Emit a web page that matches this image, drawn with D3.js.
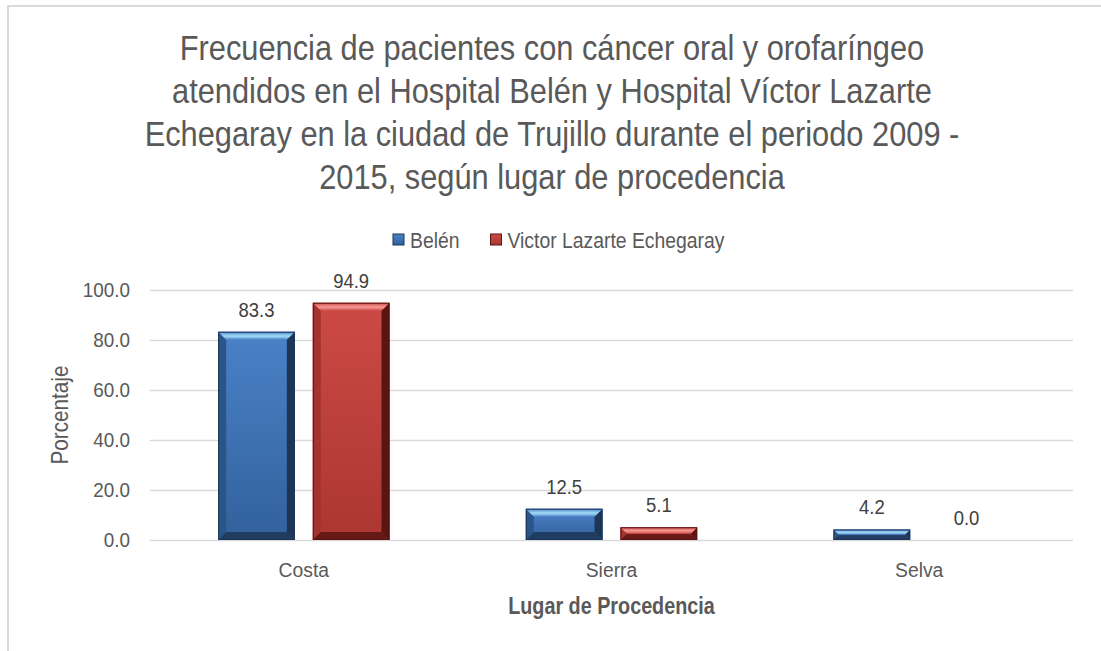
<!DOCTYPE html>
<html>
<head>
<meta charset="utf-8">
<script src="https://cdn.jsdelivr.net/npm/d3@7"></script>
<style>
  body { margin: 0; background: #fff; }
  svg { display: block; font-family: "Liberation Sans Narrow", "Arial Narrow", "Liberation Sans", sans-serif; }
  .grid line { stroke: #d9d9d9; stroke-width: 1.5; }
</style>
</head>
<body>
<div id="chart"></div>
<script>
// data
const categories = ["Costa", "Sierra", "Selva"];
const seriesNames = ["Belén", "Victor Lazarte Echegaray"];
const belenValues = [83.3, 12.5, 4.2];
const victorValues = [94.9, 5.1, 0.0];
const yTicks = [0, 20, 40, 60, 80, 100];
const titleLines = [
    "Frecuencia de pacientes con cáncer oral y orofaríngeo",
    "atendidos en el Hospital Belén y Hospital Víctor Lazarte",
    "Echegaray en la ciudad de Trujillo durante el periodo 2009 -",
    "2015, según lugar de procedencia"
];

const data = categories.map((c, i) => ({
    cat: c,
    values: [
        { key: seriesNames[0], value: belenValues[i] },
        { key: seriesNames[1], value: victorValues[i] }
    ]
}));

const W = 1101, H = 651;
const margin = { top: 290, left: 150, right: 28, bottom: 111 };
const width = W - margin.left - margin.right,
      height = H - margin.top - margin.bottom;

const textColor = "#595959";

// no narrow font installed, so squeeze text horizontally around its anchor
function squeeze(sel, sx) {
    sel.each(function() {
        const t = d3.select(this);
        const x = +t.attr("x") || 0, y = +t.attr("y") || 0;
        const prev = t.attr("transform") || "";
        t.attr("transform", `${prev} translate(${x},${y}) scale(${sx},1) translate(${-x},${-y})`);
    });
}

const svg = d3.select("#chart").append("svg")
    .attr("width", W)
    .attr("height", H);

// outer frame (runs off the right and bottom)
svg.append("rect")
    .attr("x", 8).attr("y", 6)
    .attr("width", W + 10).attr("height", H + 10)
    .attr("fill", "none")
    .attr("stroke", "#d9d9d9")
    .attr("stroke-width", 2);

// gradients for the bevel look
const defs = svg.append("defs");
const palette = {
    "Belén": { light: "#a4dcf8", top: "#4a82c8", mid: "#32619c", dark: "#1d3657", side: "#2b5589" },
    "Victor Lazarte Echegaray": { light: "#f59a95", top: "#cc4a45", mid: "#ac3632", dark: "#5a1412", side: "#a3332f" }
};
seriesNames.forEach((s, i) => {
    const p = palette[s];
    const body = defs.append("linearGradient").attr("id", "body" + i)
        .attr("x1", 0).attr("y1", 0).attr("x2", 0).attr("y2", 1);
    body.append("stop").attr("offset", "0%").attr("stop-color", p.top);
    body.append("stop").attr("offset", "100%").attr("stop-color", p.mid);
    const topG = defs.append("linearGradient").attr("id", "top" + i)
        .attr("x1", 0).attr("y1", 0).attr("x2", 0).attr("y2", 1);
    topG.append("stop").attr("offset", "0%").attr("stop-color", p.top);
    topG.append("stop").attr("offset", "55%").attr("stop-color", p.light);
    topG.append("stop").attr("offset", "100%").attr("stop-color", p.top);
});

const g = svg.append("g")
    .attr("transform", `translate(${margin.left},${margin.top})`);

// scales
const x0 = d3.scaleBand()
    .domain(categories)
    .range([0, width])
    .padding(0);

const x1 = d3.scaleBand()
    .domain(seriesNames)
    .range([0, x0.bandwidth()])
    .paddingInner(0.19)
    .paddingOuter(0.72);

const y = d3.scaleLinear()
    .domain([0, 100])
    .range([height, 0]);

// y axis + gridlines
const yAxis = g.append("g")
    .attr("class", "grid")
    .call(d3.axisLeft(y).tickValues(yTicks).tickFormat(d3.format(".1f"))
        .tickSize(-width).tickPadding(20));
yAxis.select(".domain").remove();
yAxis.selectAll("text")
    .attr("fill", textColor)
    .style("font-size", "21px")
    .style("font-family", "inherit")
    .call(squeeze, 0.9);

// x axis
const xAxis = g.append("g")
    .attr("transform", `translate(0,${height})`)
    .call(d3.axisBottom(x0).tickSize(0).tickPadding(22));
xAxis.select(".domain").remove();
xAxis.selectAll("text")
    .attr("fill", textColor)
    .style("font-size", "21px")
    .style("font-family", "inherit")
    .call(squeeze, 0.92);

// bars with bevel
const groups = g.selectAll(".cat")
    .data(data)
    .enter().append("g")
    .attr("class", "cat")
    .attr("transform", d => `translate(${x0(d.cat)},0)`);

groups.selectAll(".bar")
    .data(d => d.values)
    .enter().append("g")
    .attr("class", "bar")
    .each(function(d) {
        const i = seriesNames.indexOf(d.key);
        const p = palette[d.key];
        const bx = x1(d.key), bw = x1.bandwidth();
        const by = y(d.value), bh = height - y(d.value);
        if (bh <= 0) return;
        const b = Math.min(8, bh / 2);
        const el = d3.select(this);
        el.append("rect")
            .attr("x", bx).attr("y", by)
            .attr("width", bw).attr("height", bh)
            .attr("fill", `url(#body${i})`);
        // left side
        el.append("polygon")
            .attr("points", [[bx, by], [bx + b, by + b], [bx + b, by + bh - b], [bx, by + bh]].join(" "))
            .attr("fill", p.side);
        // right side
        el.append("polygon")
            .attr("points", [[bx + bw, by], [bx + bw - b, by + b], [bx + bw - b, by + bh - b], [bx + bw, by + bh]].join(" "))
            .attr("fill", p.dark);
        // bottom
        el.append("polygon")
            .attr("points", [[bx, by + bh], [bx + b, by + bh - b], [bx + bw - b, by + bh - b], [bx + bw, by + bh]].join(" "))
            .attr("fill", p.dark).attr("opacity", 0.85);
        // top
        el.append("polygon")
            .attr("points", [[bx, by], [bx + bw, by], [bx + bw - b, by + b], [bx + b, by + b]].join(" "))
            .attr("fill", `url(#top${i})`);
        el.append("rect")
            .attr("x", bx + 0.5).attr("y", by + 0.5)
            .attr("width", bw - 1).attr("height", Math.max(0, bh - 1))
            .attr("fill", "none")
            .attr("stroke", p.dark).attr("stroke-width", 1);
    });

// value labels
groups.selectAll(".lbl")
    .data(d => d.values)
    .enter().append("text")
    .attr("class", "lbl")
    .attr("x", d => x1(d.key) + x1.bandwidth() / 2)
    .attr("y", d => y(d.value) - 15)
    .attr("text-anchor", "middle")
    .attr("fill", "#404040")
    .style("font-size", "21px")
    .text(d => d3.format(".1f")(d.value))
    .call(squeeze, 0.88);

// axis titles
svg.append("text")
    .attr("text-anchor", "middle")
    .attr("transform", `translate(68,${margin.top + height / 2}) rotate(-90)`)
    .attr("fill", textColor)
    .style("font-size", "23px")
    .text("Porcentaje")
    .call(squeeze, 0.9);

svg.append("text")
    .attr("text-anchor", "middle")
    .attr("x", margin.left + width / 2)
    .attr("y", 614)
    .attr("fill", textColor)
    .style("font-size", "23px")
    .style("font-weight", "bold")
    .text("Lugar de Procedencia")
    .call(squeeze, 0.86);

// title
svg.append("g").selectAll("text")
    .data(titleLines)
    .enter().append("text")
    .attr("x", 552)
    .attr("y", (d, i) => 60 + i * 43)
    .attr("text-anchor", "middle")
    .attr("fill", textColor)
    .style("font-size", "35px")
    .text(d => d)
    .call(squeeze, 0.88);

// legend
const legend = svg.append("g").attr("transform", "translate(393,240)");
let lx = 0;
seriesNames.forEach((s, i) => {
    const p = palette[s];
    const item = legend.append("g").attr("transform", `translate(${lx},0)`);
    item.append("rect")
        .attr("x", 0).attr("y", -6)
        .attr("width", 11).attr("height", 11)
        .attr("fill", `url(#body${i})`)
        .attr("stroke", p.dark).attr("stroke-width", 1);
    const t = item.append("text")
        .attr("x", 17).attr("y", 8)
        .attr("fill", textColor)
        .style("font-size", "22px")
        .text(s)
        .call(squeeze, 0.88);
    lx += 17 + t.node().getComputedTextLength() * 0.88 + 31;
});
</script>
</body>
</html>
